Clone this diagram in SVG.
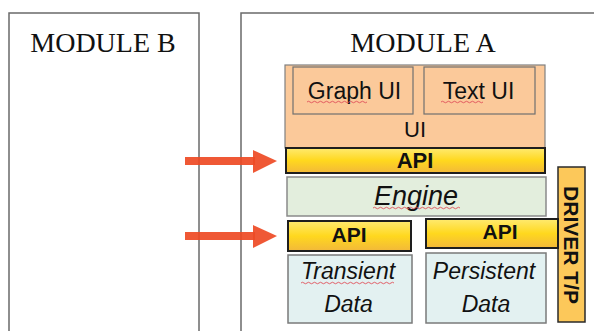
<svg xmlns="http://www.w3.org/2000/svg" width="594" height="331" viewBox="0 0 594 331">
<defs>
<linearGradient id="apiGrad" x1="0" y1="0" x2="0" y2="1">
<stop offset="0" stop-color="#FFEA70"/>
<stop offset="0.5" stop-color="#FFD81E"/>
<stop offset="1" stop-color="#F2B83A"/>
</linearGradient>
</defs>
<style>
.module{fill:none;stroke:#6a6a6a;stroke-width:1.5}
.modtxt{font-family:"Liberation Serif","Times New Roman",serif;font-size:28px;fill:#111}
.peach{fill:#FBC99A;stroke:#808080;stroke-width:1.2}
.sub{fill:#FBC99A;stroke:#707070;stroke-width:1.2}
.api{fill:url(#apiGrad);stroke:#1e1e1e;stroke-width:2}
.engine{fill:#E3EEDD;stroke:#8a8a8a;stroke-width:1.5}
.data{fill:#E3F1F1;stroke:#7a7a7a;stroke-width:1.5}
.driver{fill:#FCC85A;stroke:#2a2a2a;stroke-width:1.5}
.t{font-family:"Liberation Sans",Arial,sans-serif;fill:#111;text-anchor:middle}
.b{font-weight:bold}
.i{font-style:italic}
.sq{fill:none;stroke:#E0505A;stroke-width:0.9}
.arrow{stroke:#EE4A24;stroke-width:8;fill:none;opacity:0.92}
.head{fill:#EE4A24;opacity:0.92}
</style>

<g id="module-b">
<rect class="module" x="9" y="13" width="190" height="340"/>
<text class="modtxt" x="103" y="52" text-anchor="middle">MODULE B</text>
</g>

<g id="module-a">
<rect class="module" x="241" y="13" width="380" height="340"/>
<text class="modtxt" x="423" y="52" text-anchor="middle">MODULE A</text>
</g>

<g id="ui">
<rect class="peach" x="285" y="65" width="260" height="83"/>
<text class="t" x="415" y="137" font-size="22">UI</text>
</g>

<g id="graph-ui">
<rect class="sub" x="293" y="67" width="120" height="47"/>
<text class="t" x="354.5" y="99" font-size="23">Graph UI</text>
<path class="sq" d="M307,102 q1.5,-1.5 3,0 t3,0 t3,0 t3,0 t3,0 t3,0 t3,0 t3,0 t3,0 t3,0 t3,0 t3,0 t3,0 t3,0 t3,0 t3,0 t3,0 t3,0 t3,0 t3,0"/>
</g>

<g id="text-ui">
<rect class="sub" x="424" y="67" width="111" height="47"/>
<text class="t" x="478.5" y="99" font-size="23">Text UI</text>
<path class="sq" d="M441,102 q1.5,-1.5 3,0 t3,0 t3,0 t3,0 t3,0 t3,0 t3,0 t3,0 t3,0 t3,0 t3,0 t3,0 t3,0 t3,0"/>
</g>

<g id="api-top">
<rect class="api" x="286" y="148" width="259" height="25"/>
<text class="t b" x="415" y="168" font-size="22">API</text>
</g>

<g id="engine">
<rect class="engine" x="287" y="177" width="259" height="39"/>
<text class="t i" x="416" y="205" font-size="27">Engine</text>
<path class="sq" d="M373,208 q1.5,-1.5 3,0 t3,0 t3,0 t3,0 t3,0 t3,0 t3,0 t3,0 t3,0 t3,0 t3,0 t3,0 t3,0 t3,0 t3,0 t3,0 t3,0 t3,0 t3,0 t3,0 t3,0 t3,0 t3,0 t3,0 t3,0 t3,0 t3,0 t3,0 t3,0"/>
</g>

<g id="driver">
<rect class="driver" x="558" y="167" width="27" height="155"/>
<text class="t b" x="0" y="0" font-size="21" transform="translate(564,245) rotate(90)">DRIVER T/P</text>
</g>

<g id="api-left">
<rect class="api" x="288" y="221" width="123" height="30"/>
<text class="t b" x="349" y="242" font-size="21">API</text>
</g>

<g id="api-right">
<rect class="api" x="426" y="219" width="132" height="29"/>
<text class="t b" x="500" y="239" font-size="21">API</text>
</g>

<g id="transient-data">
<rect class="data" x="288" y="255" width="124" height="68"/>
<text class="t i" x="348" y="279" font-size="23">Transient</text>
<text class="t i" x="348.5" y="312" font-size="23">Data</text>
<path class="sq" d="M301,283 q1.5,-1.5 3,0 t3,0 t3,0 t3,0 t3,0 t3,0 t3,0 t3,0 t3,0 t3,0 t3,0 t3,0 t3,0 t3,0 t3,0 t3,0 t3,0 t3,0 t3,0 t3,0 t3,0 t3,0 t3,0 t3,0 t3,0 t3,0 t3,0 t3,0 t3,0 t3,0 t3,0"/>
</g>

<g id="persistent-data">
<rect class="data" x="426" y="253" width="120" height="70"/>
<text class="t i" x="484" y="279" font-size="23">Persistent</text>
<text class="t i" x="486" y="312" font-size="23">Data</text>
</g>

<g id="connectors">
<path class="arrow" d="M185,161 L255,161"/>
<path class="head" d="M253,150 L277,161 L253,173 Z"/>
<path class="arrow" d="M185,236 L255,236"/>
<path class="head" d="M253,225 L277,236 L253,248 Z"/>
</g>
</svg>
